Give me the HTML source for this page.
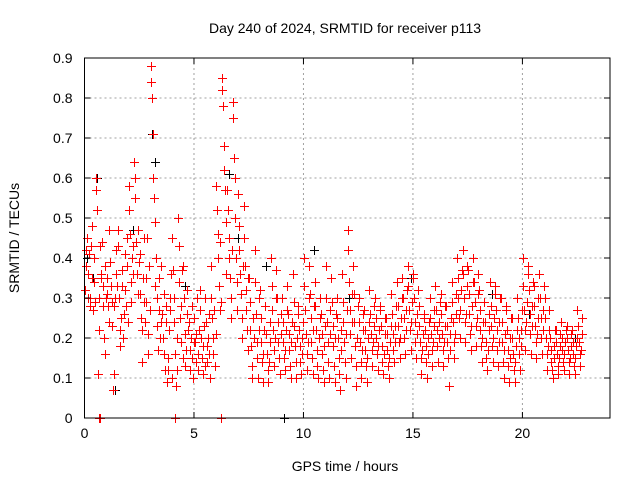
<!DOCTYPE html>
<html><head><meta charset="utf-8"><style>
body{margin:0;background:#fff;}
svg{display:block;font-family:"Liberation Sans",sans-serif;}
</style></head><body>
<svg id="chart" width="640" height="480">
<text x="345" y="33" font-size="14" text-anchor="middle" fill="#000">Day 240 of 2024, SRMTID for receiver p113</text>
<text x="345" y="471" font-size="14" text-anchor="middle">GPS time / hours</text>
<text transform="translate(19,238) rotate(-90)" font-size="14" text-anchor="middle">SRMTID / TECUs</text>
<g id="grid"></g><g id="marks" shape-rendering="crispEdges"></g><g id="axes"></g>
</svg>
<script>
const xTicks=[0,5,10,15,20];
const yTicks=[0,0.1,0.2,0.3,0.4,0.5,0.6,0.7,0.8,0.9];
const yTickLabels=["0","0.1","0.2","0.3","0.4","0.5","0.6","0.7","0.8","0.9"];
const binHours=[0,0.25,0.5,0.75,1,1.25,1.5,1.75,2,2.25,2.5,2.75,3,3.25,3.5,3.75,4,4.25,4.5,4.75,5,5.25,5.5,5.75,6,6.25,6.5,6.75,7,7.25,7.5,7.75,8,8.25,8.5,8.75,9,9.25,9.5,9.75,10,10.25,10.5,10.75,11,11.25,11.5,11.75,12,12.25,12.5,12.75,13,13.25,13.5,13.75,14,14.25,14.5,14.75,15,15.25,15.5,15.75,16,16.25,16.5,16.75,17,17.25,17.5,17.75,18,18.25,18.5,18.75,19,19.25,19.5,19.75,20,20.25,20.5,20.75,21,21.25,21.5,21.75,22,22.25,22.5];
const redValues=[
[0.32,0.38,0.42,0.45,0.30,0.36,0.41,0.28],
[0.30,0.43,0.48,0.35,0.27,0.40,0.34,0.29],
[0.60,0.57,0.52,0.11,0.22,0.30,0.43,0.35],
[0.36,0.44,0.28,0.33,0.20,0.16,0.38,0.30],
[0.35,0.31,0.28,0.24,0.47,0.39,0.33,0.29],
[0.23,0.07,0.11,0.28,0.30,0.36,0.42,0.33],
[0.47,0.43,0.30,0.22,0.18,0.25,0.37,0.33],
[0.20,0.26,0.41,0.32,0.28,0.38,0.45,0.24],
[0.58,0.52,0.46,0.34,0.29,0.40,0.36,0.43],
[0.64,0.60,0.55,0.44,0.36,0.31,0.47,0.39],
[0.41,0.31,0.25,0.14,0.22,0.35,0.29,0.45],
[0.24,0.29,0.35,0.45,0.16,0.21,0.38,0.27],
[0.88,0.84,0.80,0.71,0.60,0.55,0.49,0.33],
[0.40,0.30,0.23,0.17,0.27,0.35,0.20,0.24],
[0.38,0.26,0.20,0.31,0.16,0.12,0.24,0.28],
[0.09,0.12,0.15,0.22,0.27,0.30,0.36,0.10],
[0.45,0.37,0.30,0.24,0.16,0.08,0.12,0.20],
[0.50,0.43,0.34,0.25,0.19,0.28,0.37,0.15],
[0.38,0.30,0.21,0.13,0.17,0.26,0.32,0.22],
[0.24,0.17,0.12,0.20,0.28,0.15,0.10,0.19],
[0.25,0.19,0.14,0.21,0.30,0.16,0.12,0.22],
[0.32,0.27,0.20,0.15,0.11,0.18,0.23,0.13],
[0.30,0.24,0.18,0.14,0.20,0.26,0.16,0.10],
[0.38,0.30,0.25,0.20,0.16,0.27,0.13,0.21],
[0.58,0.52,0.46,0.40,0.33,0.27,0.44,0.29],
[0.85,0.82,0.78,0.68,0.62,0.57,0.49,0.36],
[0.57,0.52,0.45,0.40,0.35,0.30,0.25,0.42],
[0.79,0.75,0.65,0.60,0.50,0.40,0.34,0.27],
[0.56,0.48,0.42,0.36,0.31,0.25,0.20,0.38],
[0.53,0.45,0.38,0.32,0.27,0.22,0.17,0.35],
[0.35,0.29,0.22,0.18,0.13,0.10,0.25,0.20],
[0.42,0.34,0.26,0.19,0.15,0.10,0.22,0.30],
[0.32,0.25,0.19,0.14,0.09,0.16,0.22,0.28],
[0.28,0.21,0.16,0.12,0.09,0.14,0.19,0.24],
[0.40,0.33,0.27,0.22,0.17,0.13,0.20,0.30],
[0.37,0.30,0.24,0.19,0.15,0.11,0.21,0.26],
[0.30,0.24,0.19,0.15,0.12,0.17,0.22,0.27],
[0.33,0.26,0.21,0.17,0.13,0.10,0.19,0.24],
[0.36,0.29,0.23,0.18,0.14,0.10,0.20,0.26],
[0.28,0.22,0.18,0.14,0.11,0.16,0.20,0.24],
[0.40,0.33,0.27,0.21,0.16,0.12,0.19,0.30],
[0.38,0.31,0.25,0.19,0.15,0.11,0.22,0.28],
[0.34,0.28,0.22,0.17,0.13,0.10,0.20,0.25],
[0.30,0.26,0.21,0.16,0.12,0.09,0.18,0.23],
[0.38,0.30,0.24,0.19,0.14,0.10,0.21,0.27],
[0.35,0.29,0.23,0.18,0.13,0.09,0.20,0.26],
[0.30,0.25,0.20,0.15,0.11,0.07,0.17,0.22],
[0.36,0.29,0.24,0.19,0.14,0.10,0.21,0.27],
[0.47,0.42,0.34,0.27,0.21,0.15,0.24,0.31],
[0.38,0.31,0.24,0.18,0.13,0.08,0.20,0.28],
[0.30,0.24,0.19,0.14,0.10,0.17,0.22,0.26],
[0.27,0.22,0.17,0.13,0.09,0.15,0.20,0.24],
[0.32,0.26,0.21,0.17,0.13,0.19,0.23,0.28],
[0.30,0.25,0.20,0.16,0.12,0.18,0.22,0.27],
[0.28,0.23,0.18,0.14,0.11,0.16,0.21,0.25],
[0.25,0.21,0.17,0.13,0.10,0.15,0.19,0.23],
[0.31,0.26,0.21,0.17,0.14,0.19,0.23,0.28],
[0.34,0.28,0.23,0.19,0.15,0.20,0.25,0.30],
[0.35,0.30,0.25,0.20,0.16,0.22,0.27,0.32],
[0.38,0.33,0.27,0.22,0.17,0.24,0.29,0.35],
[0.36,0.30,0.24,0.19,0.15,0.21,0.26,0.32],
[0.28,0.23,0.19,0.15,0.11,0.17,0.21,0.25],
[0.26,0.22,0.18,0.14,0.10,0.16,0.20,0.24],
[0.30,0.25,0.21,0.17,0.13,0.19,0.23,0.27],
[0.33,0.27,0.22,0.18,0.14,0.20,0.24,0.29],
[0.31,0.26,0.21,0.17,0.13,0.19,0.23,0.28],
[0.28,0.23,0.19,0.15,0.08,0.17,0.21,0.25],
[0.34,0.29,0.24,0.19,0.15,0.21,0.26,0.31],
[0.40,0.35,0.30,0.25,0.20,0.27,0.32,0.37],
[0.42,0.36,0.30,0.24,0.19,0.26,0.33,0.38],
[0.37,0.31,0.26,0.21,0.17,0.23,0.28,0.34],
[0.40,0.34,0.29,0.23,0.18,0.25,0.31,0.36],
[0.32,0.27,0.22,0.18,0.14,0.20,0.24,0.29],
[0.29,0.24,0.19,0.15,0.12,0.17,0.22,0.26],
[0.34,0.28,0.23,0.18,0.14,0.20,0.25,0.31],
[0.33,0.27,0.22,0.17,0.13,0.19,0.24,0.30],
[0.30,0.24,0.19,0.14,0.10,0.17,0.21,0.27],
[0.28,0.22,0.17,0.13,0.09,0.15,0.20,0.25],
[0.25,0.20,0.16,0.12,0.09,0.14,0.18,0.22],
[0.30,0.25,0.20,0.16,0.12,0.18,0.22,0.27],
[0.40,0.33,0.27,0.22,0.17,0.24,0.29,0.36],
[0.38,0.32,0.26,0.21,0.16,0.23,0.28,0.34],
[0.33,0.28,0.23,0.19,0.15,0.21,0.25,0.30],
[0.36,0.30,0.25,0.20,0.16,0.22,0.27,0.33],
[0.30,0.25,0.20,0.16,0.12,0.18,0.22,0.27],
[0.20,0.17,0.14,0.12,0.10,0.15,0.18,0.22],
[0.22,0.19,0.16,0.13,0.11,0.15,0.18,0.21],
[0.24,0.20,0.17,0.14,0.12,0.16,0.19,0.22],
[0.23,0.20,0.17,0.14,0.11,0.15,0.18,0.21],
[0.22,0.19,0.16,0.13,0.11,0.15,0.18,0.20],
[0.27,0.23,0.19,0.16,0.13,0.17,0.21,0.25],
[0.25,0.21,0.18,0.15,0.12,0.16,0.20,0.23]
];
const blackTimes=[0.1,0.4,0.55,1.4,2.2,3.1,3.2,4.6,6.6,7.0,8.3,9.1,10.5,12.1,14.9,16.8,18.6,20.3,22.4];
const blackValues=[0.40,0.35,0.60,0.07,0.47,0.71,0.64,0.33,0.61,0.45,0.38,0.00,0.42,0.30,0.35,0.29,0.31,0.26,0.20];
const zeroTimes=[0.65,0.72,4.15,6.25];

const L=84.5,R=610,T=58,B=418,XMAX=24,YMAX=0.9;
const xs=v=>L+(v/XMAX)*(R-L);
const ys=v=>B-(v/YMAX)*(B-T);
const NS='http://www.w3.org/2000/svg';
const grid=document.getElementById('grid'),marks=document.getElementById('marks'),axes=document.getElementById('axes');
function mk(tag,at,parent){const e=document.createElementNS(NS,tag);for(const k in at)e.setAttribute(k,at[k]);parent.appendChild(e);return e;}
xTicks.forEach(t=>{
  const x=xs(t);
  if(t>0){
    const g=mk('line',{x1:x,x2:x,y1:T,y2:B,stroke:'#a0a0a0','stroke-dasharray':'2,3','stroke-width':1},grid);
    
    
  }
  mk('line',{x1:x,x2:x,y1:B,y2:B-6,stroke:'#000'},axes);
  mk('line',{x1:x,x2:x,y1:T,y2:T+6,stroke:'#000'},axes);
  const tx=mk('text',{x:x,y:B+20,'font-size':14,'text-anchor':'middle'},axes);
  tx.textContent=String(t);
  
  
});
yTicks.forEach((t,i)=>{
  const y=ys(t);
  if(t>0&&t<YMAX){
    const g=mk('line',{x1:L,x2:R,y1:y,y2:y,stroke:'#a0a0a0','stroke-dasharray':'2,3','stroke-width':1},grid);
    
    
  }
  mk('line',{x1:L,x2:L+6,y1:y,y2:y,stroke:'#000'},axes);
  mk('line',{x1:R,x2:R-6,y1:y,y2:y,stroke:'#000'},axes);
  const tx=mk('text',{x:L-12,y:y+5,'font-size':14,'text-anchor':'end'},axes);
  tx.textContent=yTickLabels[i];
  
  
});
const frame=mk('rect',{x:L,y:T,width:R-L,height:B-T,fill:'none',stroke:'#000'},axes);


function cross(x,y,col,name){
  x=Math.round(x)+0.5;y=Math.round(y)+0.5;
  const p=mk('path',{d:`M${x-4.5},${y}h9M${x},${y-4.5}v9`,stroke:col,'stroke-width':1,fill:'none'},marks);
  
  
}
blackTimes.forEach((t,i)=>cross(xs(t),ys(blackValues[i]),'#000','black-point'));
binHours.forEach((h,i)=>{
  const vals=redValues[i];
  vals.forEach((v,j)=>cross(xs(h+(j+0.5)*0.25/vals.length),ys(v),'#ff0000','red-point'));
});
zeroTimes.forEach(t=>cross(xs(t),ys(0),'#ff0000','red-zero-point'));
</script>
</body></html>
